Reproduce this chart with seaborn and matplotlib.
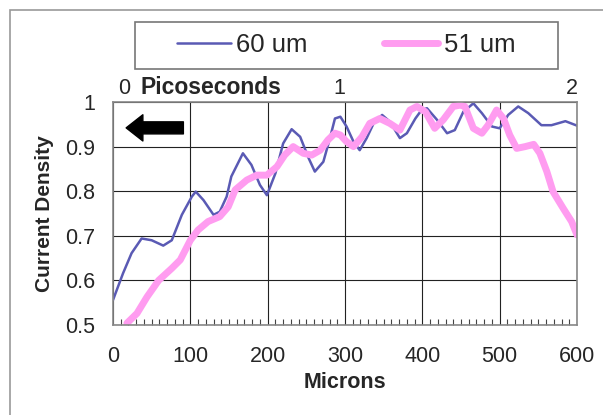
import matplotlib
matplotlib.use("Agg")
import matplotlib.pyplot as plt
import seaborn as sns
import pandas as pd
from matplotlib.patches import Rectangle
from matplotlib.lines import Line2D
from matplotlib.ticker import MultipleLocator

# -------- data --------
x_60 = [0, 13, 24, 37, 50, 65, 76, 89, 102, 107, 117, 130, 138, 147, 153, 168, 179, 190,
        199, 210, 220, 231, 242, 253, 261, 272, 281, 287, 294, 302, 311, 319, 328, 337,
        348, 358, 371, 380, 391, 399, 406, 419, 432, 442, 453, 466, 477, 490, 500, 511,
        524, 537, 554, 567, 585, 600]
y_60 = [0.556, 0.616, 0.661, 0.694, 0.69, 0.678, 0.69, 0.747, 0.788, 0.799, 0.78, 0.747,
        0.754, 0.788, 0.833, 0.885, 0.859, 0.814, 0.791, 0.84, 0.907, 0.939, 0.922, 0.874,
        0.844, 0.866, 0.922, 0.963, 0.967, 0.945, 0.911, 0.892, 0.919, 0.952, 0.971, 0.956,
        0.919, 0.93, 0.963, 0.982, 0.986, 0.96, 0.93, 0.937, 0.978, 0.997, 0.975, 0.945,
        0.941, 0.971, 0.99, 0.975, 0.948, 0.948, 0.957, 0.947]

x_51 = [18, 31, 44, 59, 76, 87, 100, 110, 123, 138, 149, 158, 173, 186, 199, 212, 222,
        233, 246, 257, 268, 278, 287, 294, 302, 311, 322, 332, 345, 358, 371, 384, 393,
        404, 416, 427, 440, 449, 455, 466, 477, 485, 496, 505, 513, 522, 533, 544, 552,
        561, 569, 582, 593, 600]
y_51 = [0.504, 0.526, 0.563, 0.60, 0.627, 0.646, 0.69, 0.713, 0.732, 0.743, 0.765, 0.803,
        0.825, 0.836, 0.836, 0.855, 0.881, 0.90, 0.885, 0.881, 0.892, 0.915, 0.93, 0.926,
        0.911, 0.90, 0.922, 0.952, 0.963, 0.952, 0.937, 0.982, 0.99, 0.978, 0.941, 0.96,
        0.99, 0.993, 0.99, 0.941, 0.93, 0.948, 0.982, 0.963, 0.926, 0.896, 0.90, 0.905,
        0.885, 0.844, 0.799, 0.762, 0.732, 0.702]

# top scale: where the picosecond labels sit (in microns)
pico_ticks = [14, 293, 594]
pico_labels = ["0", "1", "2"]

series_names = ["60 um", "51 um"]
colors = {"60 um": "#5a5ab4", "51 um": "#ff9cf0"}
widths = {"60 um": 1.8, "51 um": 5.0}

df = pd.concat([
    pd.DataFrame({"Microns": x_60, "Current Density": y_60, "series": "60 um"}),
    pd.DataFrame({"Microns": x_51, "Current Density": y_51, "series": "51 um"}),
])

sns.set_style("white")
plt.rcParams["font.family"] = ["Liberation Sans", "DejaVu Sans"]

fig = plt.figure(figsize=(6.03, 4.15), dpi=100)
ax = fig.add_axes([113 / 603, 1 - 325 / 415, 464 / 603, 223 / 415])

sns.lineplot(data=df, x="Microns", y="Current Density", hue="series", size="series",
             sizes=widths, palette=colors, hue_order=series_names,
             size_order=series_names, ax=ax, legend=False)

ax.set_xlim(0, 600)
ax.set_ylim(0.5, 1.0)
ax.xaxis.set_major_locator(MultipleLocator(100))
ax.xaxis.set_minor_locator(MultipleLocator(10))
ax.yaxis.set_minor_locator(MultipleLocator(0.05))
ax.set_yticks([0.5, 0.6, 0.7, 0.8, 0.9, 1.0])
ax.set_yticklabels(["0.5", "0.6", "0.7", "0.8", "0.9", "1"])
ax.grid(True, which="major", color="#222222", linewidth=0.8)
ax.tick_params(which="major", direction="in", length=0, labelsize=15.5)
ax.tick_params(axis="x", which="major", pad=15)
ax.tick_params(axis="y", which="major", pad=13)
ax.tick_params(which="minor", direction="in", length=4, color="#444444", width=0.8)
ax.tick_params(axis="y", which="minor", length=5)
for s in ax.spines.values():
    s.set_color("#888888")
    s.set_linewidth(1.2)

ax.set_xlabel("Microns", fontsize=15.5, fontweight="bold", labelpad=4)
ax.set_ylabel("Current Density", fontsize=15, fontweight="bold", labelpad=8)

# top picosecond scale
top = ax.twiny()
top.set_xlim(ax.get_xlim())
top.set_xticks(pico_ticks)
top.set_xticklabels(pico_labels)
top.tick_params(length=0, labelsize=15.5, pad=2)
for s in top.spines.values():
    s.set_visible(False)
top.text(35, 1.006, "Picoseconds", fontsize=16.5, fontweight="bold", ha="left", va="bottom")

# direction arrow
ax.annotate("", xy=(17, 0.942), xytext=(91, 0.942),
            arrowprops=dict(arrowstyle="simple,head_length=0.86,head_width=1.35,tail_width=0.62",
                            color="black", mutation_scale=14, shrinkA=0, shrinkB=0))

# legend above the plot, with its own box
handles = [Line2D([], [], color=colors[n], lw=widths[n]) for n in series_names]
fig.legend(handles, series_names, loc="center", bbox_to_anchor=(346 / 603, 1 - 45 / 415),
           ncol=2, fontsize=18.5, frameon=False,
           handlelength=2.1, handletextpad=0.2, columnspacing=3.0)
fig.patches.append(Rectangle((135 / 603, 1 - 69 / 415), 423 / 603, 47 / 415,
                             transform=fig.transFigure, fill=False,
                             edgecolor="#777777", linewidth=1.2))

# outer border of the original picture
fig.patches.append(Rectangle((10 / 603, -0.1), 1.2, 1 - 10 / 415 + 0.1, transform=fig.transFigure,
                             fill=False, edgecolor="#999999", linewidth=1.2))

fig.savefig("out.png", dpi=100)
